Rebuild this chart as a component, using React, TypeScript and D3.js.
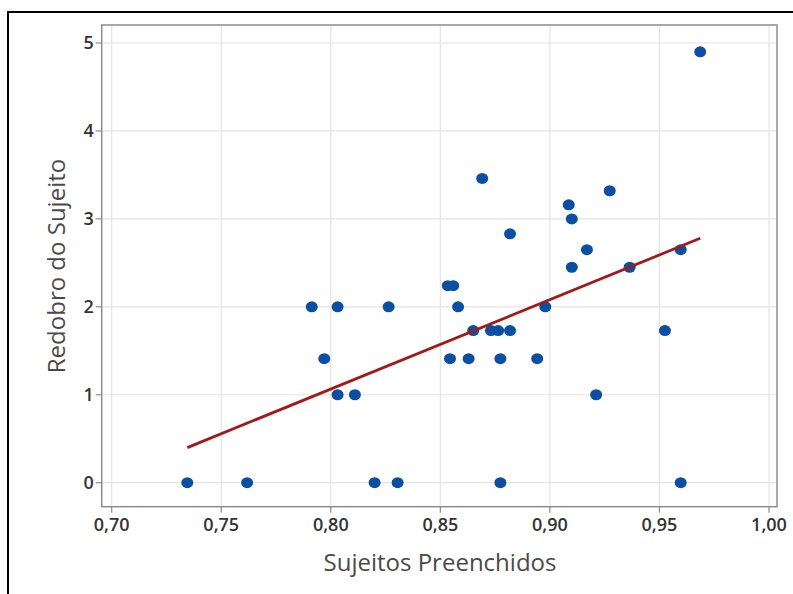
import React from 'react';
import * as d3 from 'd3';

// values (x = Sujeitos Preenchidos, y = Redobro do Sujeito)
const sujeitosPreenchidos = [
  0.7345, 0.7618, 0.7913, 0.7970, 0.8031, 0.8031, 0.8110, 0.8200, 0.8264, 0.8305,
  0.8534, 0.8559, 0.8544, 0.8581, 0.8629, 0.8650, 0.8691, 0.8731, 0.8764, 0.8774,
  0.8774, 0.8818, 0.8818, 0.8942, 0.8979, 0.9086, 0.9100, 0.9100, 0.9169, 0.9211,
  0.9273, 0.9364, 0.9525, 0.9597, 0.9597, 0.9686,
];
const redobroDoSujeito = [
  0, 0, 2.0, 1.41, 2.0, 1.0, 1.0, 0, 2.0, 0,
  2.24, 2.24, 1.41, 2.0, 1.41, 1.73, 3.46, 1.73, 1.73, 1.41,
  0, 2.83, 1.73, 1.41, 2.0, 3.16, 3.0, 2.45, 2.65, 1.0,
  3.32, 2.45, 1.73, 2.65, 0, 4.9,
];
const xTicks = [0.70, 0.75, 0.80, 0.85, 0.90, 0.95, 1.00];
const yTicks = [0, 1, 2, 3, 4, 5];

const W = 793;
const H = 594;
const plot = { left: 101.7, right: 777, top: 25, bottom: 506.7 };

export default function App() {
  const x = d3.scaleLinear().domain([0.70, 1.00]).range([111.7, 769]);
  const y = d3.scaleLinear().domain([0, 5]).range([482.7, 43]);

  // least squares fit over the points
  const mx = d3.mean(sujeitosPreenchidos)!;
  const my = d3.mean(redobroDoSujeito)!;
  let sxy = 0, sxx = 0;
  sujeitosPreenchidos.forEach((v, i) => {
    sxy += (v - mx) * (redobroDoSujeito[i] - my);
    sxx += (v - mx) * (v - mx);
  });
  const slope = sxy / sxx;
  const intercept = my - slope * mx;
  const [x0, x1] = d3.extent(sujeitosPreenchidos) as [number, number];
  const fitLine = d3.line<number>().x(d => x(d)).y(d => y(intercept + slope * d));

  const fmt = (v: number) => v.toFixed(2).replace('.', ',');
  const font = '"Open Sans", "Noto Sans", sans-serif';

  return (
    <svg width={W} height={H} style={{ position: 'absolute', left: 0, top: 0, display: 'block' }}>
      <rect x={0} y={0} width={W} height={H} fill="#fff" />
      {/* outer frame */}
      <path d={`M8,${H + 2} V12 H${W + 2}`} fill="none" stroke="#000" strokeWidth={2} />

      {/* grid */}
      {xTicks.map(t => (
        <line key={'gx' + t} x1={x(t)} x2={x(t)} y1={plot.top} y2={plot.bottom} stroke="#e4e4e4" strokeWidth={1.2} />
      ))}
      {yTicks.map(t => (
        <line key={'gy' + t} x1={plot.left} x2={plot.right} y1={y(t)} y2={y(t)} stroke="#e4e4e4" strokeWidth={1.2} />
      ))}

      {/* plot border */}
      <rect x={plot.left} y={plot.top} width={plot.right - plot.left} height={plot.bottom - plot.top}
        fill="none" stroke="#8c8c8c" strokeWidth={1.5} />

      {/* ticks + labels */}
      {xTicks.map(t => (
        <g key={'tx' + t}>
          <line x1={x(t)} x2={x(t)} y1={plot.bottom} y2={plot.bottom + 6} stroke="#8c8c8c" strokeWidth={1.2} />
          <text x={x(t)} y={531} textAnchor="middle" fontFamily={font} fontSize={18} fontWeight={600} fill="#333">{fmt(t)}</text>
        </g>
      ))}
      {yTicks.map(t => (
        <g key={'ty' + t}>
          <line x1={plot.left - 6} x2={plot.left} y1={y(t)} y2={y(t)} stroke="#8c8c8c" strokeWidth={1.2} />
          <text x={plot.left - 8} y={y(t)} dy="0.36em" textAnchor="end" fontFamily={font} fontSize={18} fontWeight={600} fill="#333">{t}</text>
        </g>
      ))}

      {/* axis titles */}
      <text x={440} y={571} textAnchor="middle" fontFamily={font} fontSize={24} fontWeight={500} fill="#4a4a4a">Sujeitos Preenchidos</text>
      <text transform={`translate(${65},${266}) rotate(-90)`} textAnchor="middle" fontFamily={font} fontSize={24} fontWeight={500} fill="#4a4a4a">Redobro do Sujeito</text>

      {/* points */}
      {sujeitosPreenchidos.map((v, i) => (
        <ellipse key={'p' + i} cx={x(v)} cy={y(redobroDoSujeito[i])} rx={6} ry={5.5} fill="#0b4fa3" />
      ))}

      {/* fitted line */}
      <path d={fitLine([x0, x1]) ?? ''} fill="none" stroke="#a01c1c" strokeWidth={2.8} />
    </svg>
  );
}
